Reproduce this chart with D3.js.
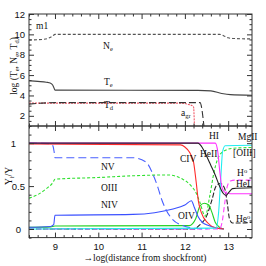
<!DOCTYPE html>
<html>
<head>
<meta charset="utf-8">
<script src="https://cdn.jsdelivr.net/npm/d3@7"></script>
<style>
  body { margin: 0; background: #fff; }
  svg { display: block; font-family: "Liberation Serif", "DejaVu Serif", serif; }
  .frame { fill: none; stroke: #333; stroke-width: 1; }
  .tick line { stroke: #333; }
  .tick text { font-size: 9.5px; fill: #111; }
  .domain { display: none; }
  .lbl { font-size: 9.5px; fill: #111; }
</style>
</head>
<body>
<div id="chart"></div>
<script>
// ---- data ----
const xTicks = [9, 10, 11, 12, 13];
const topTicks = [2, 4, 6, 8, 10, 12];
const botTicks = [0, 0.5, 1];

// top panel: log values
const Ne = [[8.4,9.45],[8.7,9.5],[8.85,9.62],[8.95,9.85],[9.0,10.0],[12.8,10.0],[12.9,9.85],[13.0,9.66],[13.1,9.6],[13.55,9.55]];
const Te = [[8.4,5.45],[8.6,5.38],[8.8,5.3],[8.9,5.2],[8.95,5.0],[8.98,4.7],[9.0,4.52],[12.3,4.5],[12.6,4.45],[12.85,4.2],[13.05,4.08],[13.55,4.02]];
const Td = [[8.4,3.15],[8.7,3.25],[9.0,3.3],[12.35,3.3],[12.44,1.0]];
const agr = [[8.4,3.25],[11.9,3.25],[12.1,3.1],[12.2,2.9],[12.22,1.0]];

// bottom panel: ion fractions
const HI = [[8.4,1.0],[12.7,1.0],[12.76,0.9],[12.8,0.7],[12.85,0.5],[12.92,0.43],[13.05,0.41],[13.55,0.41]];
const HeII = [[8.4,1.0],[12.3,1.0],[12.4,0.95],[12.5,0.85],[12.6,0.74],[12.7,0.63],[12.8,0.5],[12.88,0.42],[12.95,0.39],[13.02,0.43],[13.1,0.47],[13.55,0.48]];
const CIV = [[8.4,0.99],[11.9,0.98],[12.0,0.955],[12.1,0.9],[12.2,0.78],[12.26,0.55],[12.31,0.33],[12.38,0.19],[12.53,0.07],[12.7,0.015],[12.9,0]];
const NV = [[8.4,1.0],[8.85,0.995],[8.95,0.97],[8.98,0.9],[9.0,0.83],[10.8,0.83],[11.1,0.78],[11.26,0.64],[11.38,0.48],[11.46,0.35],[11.57,0.22],[11.7,0.12],[11.95,0.04],[12.2,0.01],[12.5,0]];
const NIV = [[8.4,0.02],[8.9,0.03],[8.97,0.05],[9.0,0.16],[10.8,0.17],[11.3,0.19],[11.7,0.23],[12.0,0.28],[12.15,0.33],[12.22,0.25],[12.3,0.15],[12.4,0.08],[12.55,0.04],[12.75,0.01],[12.9,0]];
const OIII = [[8.4,0.36],[8.6,0.4],[8.8,0.47],[8.95,0.54],[9.0,0.58],[10.0,0.6],[10.8,0.62],[11.6,0.63],[11.95,0.58],[12.15,0.5],[12.26,0.42],[12.34,0.32],[12.47,0.15],[12.58,0.4],[12.68,0.68],[12.8,0.86],[12.95,0.92],[13.1,0.94],[13.55,0.95]];
const OIV = [[8.4,0.02],[8.9,0.025],[9.0,0.035],[12.1,0.04],[12.25,0.12],[12.35,0.27],[12.45,0.3],[12.55,0.28],[12.62,0.2],[12.7,0.08],[12.8,0.02],[12.9,0]];
const MgII = [[8.4,0],[12.72,0.01],[12.78,0.2],[12.83,0.6],[12.87,0.9],[12.93,0.97],[13.55,0.975]];
const H0 = [[8.4,0],[12.8,0],[12.86,0.08],[12.92,0.3],[12.98,0.5],[13.05,0.56],[13.15,0.57],[13.55,0.57]];
const He0 = [[8.4,0],[12.2,0],[12.35,0.05],[12.5,0.15],[12.62,0.33],[12.72,0.5],[12.82,0.53],[12.92,0.47],[12.98,0.3],[13.03,0.12],[13.1,0.07],[13.3,0.07],[13.55,0.08]];
const MgIII = [[9.0,0.004],[12.6,0.004]];

const W = 266, H = 266;
const svg = d3.select("#chart").append("svg").attr("width", W).attr("height", H);

const x = d3.scaleLinear([8.4, 13.55], [29, 252]);
const yT = d3.scaleLinear([1, 12], [126, 14]);
const yB = d3.scaleLinear([-0.1, 1.2], [237.6, 126]);

const clip = (id, y0, y1) => svg.append("clipPath").attr("id", id)
  .append("rect").attr("x", x.range()[0]).attr("y", y0).attr("width", x.range()[1] - x.range()[0]).attr("height", y1 - y0);
clip("ct", 14, 126);
clip("cb", 126, 237.6);

function draw(y, clipId, data, color, dash, width) {
  const line = d3.line().x(d => x(d[0])).y(d => y(d[1])).curve(d3.curveMonotoneX);
  svg.append("path").attr("d", line(data)).attr("clip-path", `url(#${clipId})`)
    .attr("fill", "none").attr("stroke", color).attr("stroke-width", width || 1.1)
    .attr("stroke-dasharray", dash || null);
}

// top panel lines
draw(yT, "ct", agr, "#f05a6a", "2,1");
draw(yT, "ct", Ne, "#555", "3,2");
draw(yT, "ct", Te, "#444", null);
draw(yT, "ct", Td, "#333", "7,3");

// bottom panel lines
draw(yB, "cb", MgIII, "#30e0f0", "3,3");
draw(yB, "cb", He0, "#222", "5,2");
draw(yB, "cb", OIV, "#22d022", null);
draw(yB, "cb", NIV, "#3a50ff", null);
draw(yB, "cb", OIII, "#30e030", "3,2");
draw(yB, "cb", NV, "#4a60ff", "8,4");
draw(yB, "cb", CIV, "#ff2a2a", null);
draw(yB, "cb", H0, "#ff40ff", "5,3");
draw(yB, "cb", MgII, "#20eef0", null);
draw(yB, "cb", HI, "#ff30ff", null);
draw(yB, "cb", HeII, "#222", null);

// frames
svg.append("rect").attr("class", "frame").attr("x", 29).attr("y", 14).attr("width", 223).attr("height", 112);
svg.append("rect").attr("class", "frame").attr("x", 29).attr("y", 126).attr("width", 223).attr("height", 111.6);

// ticks
const xMinor = d3.range(8.4, 13.55, 0.2).map(v => +v.toFixed(1)).filter(v => !xTicks.includes(v));
function ticks(axisFn, scale, major, minor, tx, ty, len, labels, pad) {
  svg.append("g").attr("transform", `translate(${tx},${ty})`)
    .call(axisFn(scale).tickValues(minor).tickSize(len / 2).tickFormat(""));
  return svg.append("g").attr("transform", `translate(${tx},${ty})`)
    .call(axisFn(scale).tickValues(major).tickSize(len).tickPadding(pad || 3)
      .tickFormat(labels ? (d => d) : ""));
}
const yTMinor = d3.range(1, 12.01, 0.5).filter(v => !topTicks.includes(v));
const yBMinor = d3.range(-1, 12, 1).map(v => v / 10).filter(v => !botTicks.includes(v));

// x ticks: top, middle (both directions), bottom
ticks(d3.axisTop, x, xTicks, xMinor, 0, 14, -5, false);
ticks(d3.axisBottom, x, xTicks, xMinor, 0, 126, -5, false);
ticks(d3.axisTop, x, xTicks, xMinor, 0, 126, -5, false);
const xb = ticks(d3.axisBottom, x, xTicks, xMinor, 0, 237.6, -5, true, 4);
xb.selectAll("text").attr("dy", "0.9em");

// y ticks top panel
ticks(d3.axisLeft, yT, topTicks, yTMinor, 29, 0, -5, true, 4);
ticks(d3.axisRight, yT, topTicks, yTMinor, 252, 0, -5, false);
// y ticks bottom panel
const yl = ticks(d3.axisLeft, yB, botTicks, yBMinor, 29, 0, -5, true, 4);
yl.selectAll("text").attr("dx", d => d === 1 ? -9 : d === 0 ? -4 : 0);
ticks(d3.axisRight, yB, botTicks, yBMinor, 252, 0, -5, false);

// axis titles
const yt = svg.append("text").attr("class", "lbl").attr("text-anchor", "middle")
  .attr("transform", "translate(17,66) rotate(-90)");
yt.append("tspan").text("log (T");
yt.append("tspan").attr("baseline-shift", "-25%").attr("font-size", "6.5px").text("e");
yt.append("tspan").text(", N");
yt.append("tspan").attr("baseline-shift", "-25%").attr("font-size", "6.5px").text("e");
yt.append("tspan").text(", T");
yt.append("tspan").attr("baseline-shift", "-25%").attr("font-size", "6.5px").text("d");
yt.append("tspan").text(")");

const yb = svg.append("text").attr("class", "lbl").attr("text-anchor", "middle")
  .attr("transform", "translate(12,176) rotate(-90)");
yb.append("tspan").text("Y");
yb.append("tspan").attr("baseline-shift", "-25%").attr("font-size", "6.5px").text("i");
yb.append("tspan").text("/Y");

svg.append("text").attr("class", "lbl").attr("text-anchor", "middle")
  .attr("x", 145).attr("y", 261).attr("font-size", "10.5px").text("→log(distance from shockfront)");

// in-plot labels
function label(px, py, main, sub, sup, size) {
  const t = svg.append("text").attr("class", "lbl").attr("x", px).attr("y", py).attr("font-size", size || "9px");
  t.append("tspan").text(main);
  if (sub) t.append("tspan").attr("baseline-shift", "-30%").attr("font-size", "6.5px").text(sub);
  if (sup) t.append("tspan").attr("baseline-shift", "50%").attr("font-size", "6.5px").text(sup);
}
label(36, 29, "m1");
label(103, 49, "N", "e");
label(104, 85, "T", "e");
label(104, 108, "T", "d");
label(181, 116, "a", "gr");

label(101, 170, "NV");
label(101, 191, "OIII");
label(101, 208, "NIV");
label(180, 162, "CIV");
label(200, 157, "HeII");
label(209, 139, "HI");
label(238, 140, "MgII");
label(233, 156, "[OIII]", null, null, "8.5px");
label(237, 176, "H", null, "o");
label(236, 187, "HeI");
label(236, 222, "He", null, "o");
label(178, 219, "OIV");
</script>
</body>
</html>
